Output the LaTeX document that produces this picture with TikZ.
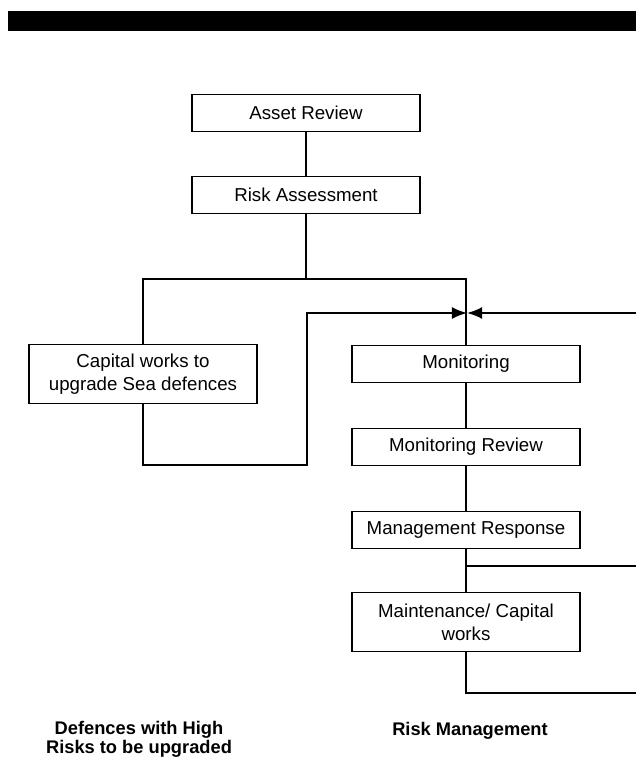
\documentclass[tikz,border=0pt]{standalone}
\usepackage{fontspec}
\setmainfont{Liberation Sans}
\usepackage{tikz}
\usetikzlibrary{arrows}
\usetikzlibrary{arrows.meta}
\usetikzlibrary{positioning}
\tikzset{stage/.style = {draw, line width = 1.2pt, align = center, inner sep = 2pt,
    minimum width = 5.7cm, minimum height = 0.93cm,
    font = \fontsize{13.3}{16.5}\selectfont}}
\tikzset{tall/.style = {stage, minimum height = 1.47cm}}
\tikzset{link/.style = {line width = 1.2pt}}
\tikzset{caption/.style = {align = center, font = \fontsize{13}{13.6}\selectfont\bfseries}}
\tikzset{meet/.style = {link, -{Latex[length = 0.38cm, width = 0.3cm]}}}

\begin{document}
\begin{tikzpicture}[x=0.025cm, y=-0.025cm]
      \useasboundingbox (0, 0) rectangle (636, 760);
      \fill (8, 11) rectangle (636, 31);

      \node [stage] (asset) at (306, 113) {Asset Review};
      \node [stage] (risk) at (306, 195) {Risk Assessment};
      \node [tall] (capital) at (143, 374) {Capital works to\\upgrade Sea defences};
      \node [stage] (mon) at (466, 364) {Monitoring};
      \node [stage] (monrev) at (466, 447) {Monitoring Review};
      \node [stage] (mresp) at (466, 530) {Management Response};
      \node [tall] (maint) at (466, 622) {Maintenance/ Capital\\works};

      \node [caption] (lcap) at (139, 739) {Defences with High\\Risks to be upgraded};
      \node [caption] (rcap) at (470, 731) {Risk Management};

      \coordinate (fork) at (306, 279);
      \coordinate (back) at (307, 465);
      \coordinate (join) at (467, 313);
      \coordinate (edgetop) at (636, 313);
      \coordinate (tap) at (466, 566);
      \coordinate (edgemid) at (636, 566);
      \coordinate (edgelow) at (636, 693);

      \draw [link] (asset) -- (risk);
      \draw [link] (risk) -- (fork);
      \draw [link] (capital.north) |- (fork) -| (mon.north);
      \draw [meet] (capital.south) |- (back) |- (join);
      \draw [meet] (edgetop) -- (join);
      \draw [link] (mon) -- (monrev);
      \draw [link] (monrev) -- (mresp);
      \draw [link] (mresp) -- (maint);
      \draw [link] (tap) -- (edgemid);
      \draw [link] (maint.south) |- (edgelow);

    \end{tikzpicture}
\end{document}
